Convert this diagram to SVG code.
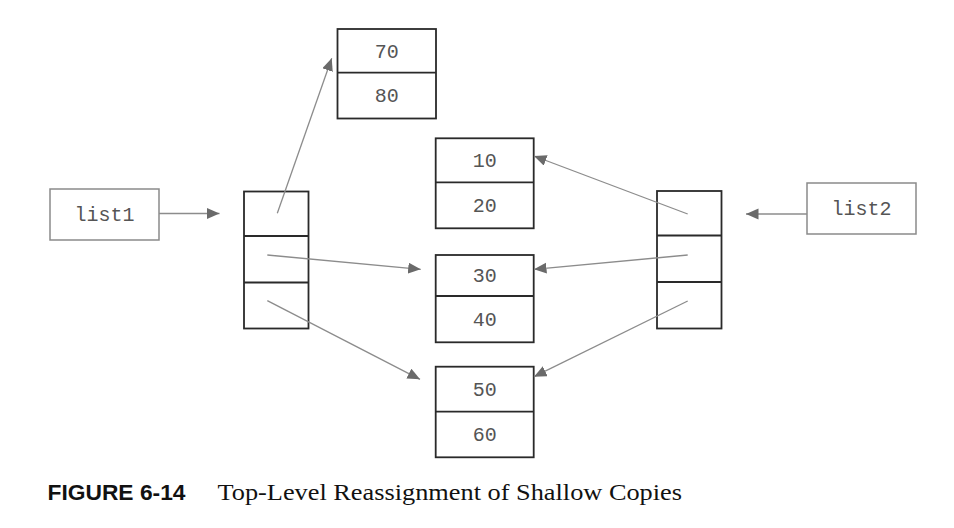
<svg xmlns="http://www.w3.org/2000/svg" width="954" height="528" viewBox="0 0 954 528">
<defs>
<style>
.cell{fill:#fff;stroke:#2a2a2a;stroke-width:1.8}
.div{stroke:#2a2a2a;stroke-width:1.8}
.var{fill:#fff;stroke:#8a8a8a;stroke-width:1.5}
.mono{font-family:"Liberation Mono","DejaVu Sans Mono",monospace;font-size:20px;fill:#555;text-anchor:middle}
.conn{stroke:#8c8c8c;stroke-width:1.3;fill:none;marker-end:url(#ah)}
</style>
<marker id="ah" markerUnits="userSpaceOnUse" markerWidth="13" markerHeight="12" refX="12.5" refY="5.5" orient="auto">
<path d="M0,0 L12.5,5.5 L0,11 z" fill="#6a6a6a"/>
</marker>
</defs>
<rect width="954" height="528" fill="#fff"/>

<g id="list1">
<rect class="var" x="50" y="189" width="109" height="51"/>
<text class="mono" x="104.5" y="221">list1</text>
</g>
<g id="list2">
<rect class="var" x="807" y="183" width="109" height="51"/>
<text class="mono" x="861.5" y="215">list2</text>
</g>

<g id="array1">
<rect class="cell" x="244" y="191.5" width="64.5" height="137"/>
<line class="div" x1="244" y1="236" x2="308.5" y2="236"/>
<line class="div" x1="244" y1="282.5" x2="308.5" y2="282.5"/>
</g>
<g id="array2">
<rect class="cell" x="657" y="191" width="64.5" height="137.5"/>
<line class="div" x1="657" y1="235.5" x2="721.5" y2="235.5"/>
<line class="div" x1="657" y1="282" x2="721.5" y2="282"/>
</g>

<g id="pair7080">
<rect class="cell" x="337.5" y="29" width="98.5" height="89.5"/>
<line class="div" x1="337.5" y1="72.7" x2="436" y2="72.7"/>
<text class="mono" x="386.7" y="57.5">70</text>
<text class="mono" x="386.7" y="102">80</text>
</g>
<g id="pair1020">
<rect class="cell" x="435.7" y="138.3" width="98" height="90"/>
<line class="div" x1="435.7" y1="182.3" x2="533.7" y2="182.3"/>
<text class="mono" x="484.7" y="167">10</text>
<text class="mono" x="484.7" y="212">20</text>
</g>
<g id="pair3040">
<rect class="cell" x="435.7" y="255" width="98" height="87.3"/>
<line class="div" x1="435.7" y1="296" x2="533.7" y2="296"/>
<text class="mono" x="484.7" y="282">30</text>
<text class="mono" x="484.7" y="325.5">40</text>
</g>
<g id="pair5060">
<rect class="cell" x="435.7" y="366.7" width="98" height="90.6"/>
<line class="div" x1="435.7" y1="411.7" x2="533.7" y2="411.7"/>
<text class="mono" x="484.7" y="396">50</text>
<text class="mono" x="484.7" y="440.5">60</text>
</g>

<g id="connectors">
<line class="conn" x1="159" y1="213.5" x2="219.5" y2="213.5"/>
<line class="conn" x1="807" y1="214" x2="746" y2="214"/>
<line class="conn" x1="277.3" y1="213.3" x2="331.7" y2="58.3"/>
<line class="conn" x1="267.3" y1="255" x2="420.7" y2="269.3"/>
<line class="conn" x1="267.3" y1="300.7" x2="420" y2="379.3"/>
<line class="conn" x1="687.7" y1="214" x2="534" y2="156"/>
<line class="conn" x1="687.7" y1="255" x2="534" y2="269.3"/>
<line class="conn" x1="687.7" y1="301" x2="534" y2="376.7"/>
</g>

<g id="caption">
<text x="47.5" y="500" font-family="Liberation Sans Narrow, Liberation Sans, Arial, sans-serif" font-weight="bold" font-size="21.5" fill="#111" textLength="138" lengthAdjust="spacingAndGlyphs">FIGURE 6-14</text>
<text x="217.5" y="500" font-family="Liberation Serif, Times New Roman, serif" font-size="23.5" fill="#111" textLength="464.5" lengthAdjust="spacingAndGlyphs">Top-Level Reassignment of Shallow Copies</text>
</g>
</svg>
